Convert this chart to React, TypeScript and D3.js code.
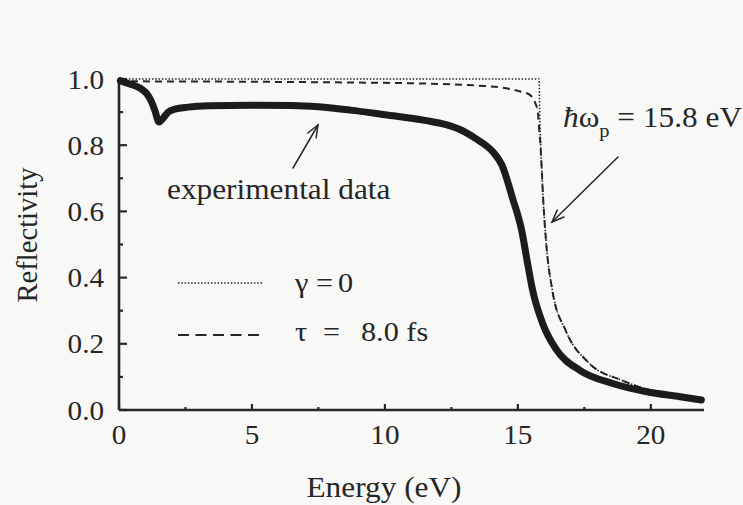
import React from "react";
import * as d3 from "d3";

// Measured reflectivity of aluminium (photon energy in eV, reflectivity)
const expEnergy = [0.05, 0.4, 0.8, 1.05, 1.2, 1.35, 1.5, 1.62, 1.85, 2.1, 2.6, 3.4, 5.0, 6.5, 7.5, 8.7, 10.0, 11.5, 12.3, 12.8, 13.3, 13.7, 14.06, 14.4, 14.8, 15.15, 15.35, 15.56, 15.94, 16.47, 17.33, 18.57, 19.85, 21.1, 21.9];
const expRefl = [0.995, 0.985, 0.972, 0.955, 0.935, 0.905, 0.87, 0.878, 0.9, 0.909, 0.915, 0.919, 0.921, 0.92, 0.916, 0.906, 0.892, 0.875, 0.862, 0.848, 0.826, 0.805, 0.78, 0.74, 0.64, 0.54, 0.45, 0.36, 0.26, 0.18, 0.12, 0.08, 0.055, 0.04, 0.03];

// Free-electron model, no damping (gamma = 0)
const PLASMA_EV = 15.8;
const undampedEnergy = [0, PLASMA_EV, 15.82, 15.85, 15.89, 15.95, 16.07, 16.3, 16.8, 17.7, 18.9, 20.2, 21.6, 22];
const undampedRefl = [1.0, 1.0, 0.9, 0.82, 0.74, 0.64, 0.5, 0.36, 0.24, 0.14, 0.09, 0.055, 0.036, 0.033];

// Free-electron model with relaxation time tau = 8.0 fs
const dampedEnergy = [0, 8, 12, 13.5, 14.3, 15.1, 15.45, 15.64, 15.75, 15.8, 15.85, 15.89, 15.95, 16.07, 16.3, 16.8, 17.7, 18.9, 20.2, 21.6, 22];
const dampedRefl = [0.993, 0.99, 0.985, 0.98, 0.975, 0.962, 0.952, 0.93, 0.9, 0.85, 0.8, 0.74, 0.64, 0.5, 0.36, 0.24, 0.14, 0.09, 0.055, 0.036, 0.033];

const xTicks = [0, 5, 10, 15, 20];
const xMinorTicks = [2.5, 7.5, 12.5, 17.5];
const yTicks = [0, 0.2, 0.4, 0.6, 0.8, 1.0];
const yMinorTicks = [0.1, 0.3, 0.5, 0.7, 0.9];

const W = 743;
const H = 505;
const INK = "#262626";
const FONT = "'Liberation Serif', 'Times New Roman', serif";
const SX = 1.08;

const x = d3.scaleLinear().domain([0, 22]).range([119, 704]);
const y = d3.scaleLinear().domain([0, 1]).range([410, 79]);

type P = [number, number];
const zip = (xs: number[], ys: number[]): P[] => xs.map((v, i) => [v, ys[i]]);

const smooth = d3
  .line<P>()
  .x((d) => x(d[0]))
  .y((d) => y(d[1]))
  .curve(d3.curveMonotoneX);

function Label(props: {
  x: number;
  y: number;
  size: number;
  anchor?: string;
  children: React.ReactNode;
}) {
  return (
    <text
      transform={`translate(${props.x},${props.y}) scale(${SX},1)`}
      fontSize={props.size}
      fontFamily={FONT}
      fill={INK}
      textAnchor={props.anchor || "start"}
    >
      {props.children}
    </text>
  );
}

function Arrow(props: { x1: number; y1: number; x2: number; y2: number }) {
  const { x1, y1, x2, y2 } = props;
  const ang = Math.atan2(y2 - y1, x2 - x1);
  const len = 13;
  const spread = 0.38;
  const a1: P = [x2 - len * Math.cos(ang - spread), y2 - len * Math.sin(ang - spread)];
  const a2: P = [x2 - len * Math.cos(ang + spread), y2 - len * Math.sin(ang + spread)];
  return (
    <g stroke={INK} strokeWidth={1.5} fill="none" strokeLinecap="round">
      <line x1={x1} y1={y1} x2={x2} y2={y2} />
      <polyline points={`${a1[0]},${a1[1]} ${x2},${y2} ${a2[0]},${a2[1]}`} />
    </g>
  );
}

export default function App() {
  const expPath = smooth(zip(expEnergy, expRefl)) || "";
  const undampedPath = smooth(zip(undampedEnergy, undampedRefl)) || "";
  const dampedPath = smooth(zip(dampedEnergy, dampedRefl)) || "";

  return (
    <svg
      width={W}
      height={H}
      viewBox={`0 0 ${W} ${H}`}
      style={{ position: "absolute", left: 0, top: 0, background: "#f8f8f7" }}
    >
      <rect width={W} height={H} fill="#f8f8f7" />

      {/* axes */}
      <g stroke={INK} strokeWidth={2.6} fill="none">
        <line x1={x(0)} y1={y(1)} x2={x(0)} y2={y(0)} />
        <line x1={x(0)} y1={y(0)} x2={x(22)} y2={y(0)} />
      </g>
      <g stroke={INK} strokeWidth={2.2}>
        {yTicks.map((t) => (
          <line key={"ym" + t} x1={x(0)} x2={x(0) + 8} y1={y(t)} y2={y(t)} />
        ))}
        {yMinorTicks.map((t) => (
          <line key={"yn" + t} x1={x(0)} x2={x(0) + 4} y1={y(t)} y2={y(t)} />
        ))}
        {xTicks.map((t) => (
          <line key={"xm" + t} x1={x(t)} x2={x(t)} y1={y(0)} y2={y(0) - 6} />
        ))}
        {xMinorTicks.map((t) => (
          <line key={"xn" + t} x1={x(t)} x2={x(t)} y1={y(0)} y2={y(0) - 3} />
        ))}
      </g>

      {/* tick labels */}
      {yTicks.map((t) => (
        <Label key={"yl" + t} x={104} y={y(t) + 9.5} size={27} anchor="end">
          {t.toFixed(1)}
        </Label>
      ))}
      {xTicks.map((t) => (
        <Label key={"xl" + t} x={x(t)} y={444} size={27} anchor="middle">
          {t}
        </Label>
      ))}

      {/* axis titles */}
      <Label x={384} y={497} size={29} anchor="middle">
        Energy (eV)
      </Label>
      <text
        transform="translate(37,235) rotate(-90)"
        fontSize={28.6}
        fontFamily={FONT}
        fill={INK}
        textAnchor="middle"
      >
        Reflectivity
      </text>

      {/* model curves */}
      <path d={undampedPath} fill="none" stroke={INK} strokeWidth={1.6} strokeDasharray="1.5 1.8" />
      <path d={dampedPath} fill="none" stroke={INK} strokeWidth={2} strokeDasharray="7 5" />

      {/* experimental curve */}
      <path
        d={expPath}
        fill="none"
        stroke="#1c1c1c"
        strokeWidth={7}
        strokeLinejoin="round"
        strokeLinecap="round"
      />

      {/* annotations */}
      <Arrow x1={293} y1={168} x2={318} y2={125} />
      <Label x={167} y={199} size={29}>
        experimental data
      </Label>

      <Arrow x1={618} y1={157} x2={552} y2={222} />
      <text
        transform={`translate(563,127) scale(${SX},1)`}
        fontSize={29}
        fontFamily={FONT}
        fill={INK}
      >
        <tspan fontStyle="italic">ħ</tspan>
        <tspan>ω</tspan>
        <tspan dy={10} fontSize={19}>p</tspan>
        <tspan dy={-10}> = {PLASMA_EV.toFixed(1)} eV</tspan>
      </text>

      {/* legend */}
      <line x1={178} x2={262} y1={283} y2={283} stroke={INK} strokeWidth={1.6} strokeDasharray="1.5 1.8" />
      <Label x={295} y={292} size={28}>γ</Label>
      <Label x={316} y={292} size={28}>=</Label>
      <Label x={338} y={292} size={28}>0</Label>

      <line x1={178} x2={262} y1={335} y2={335} stroke={INK} strokeWidth={2} strokeDasharray="11 6.5" />
      <Label x={295} y={341} size={28}>τ</Label>
      <Label x={323} y={341} size={28}>=</Label>
      <Label x={361} y={341} size={28}>8.0 fs</Label>
    </svg>
  );
}
